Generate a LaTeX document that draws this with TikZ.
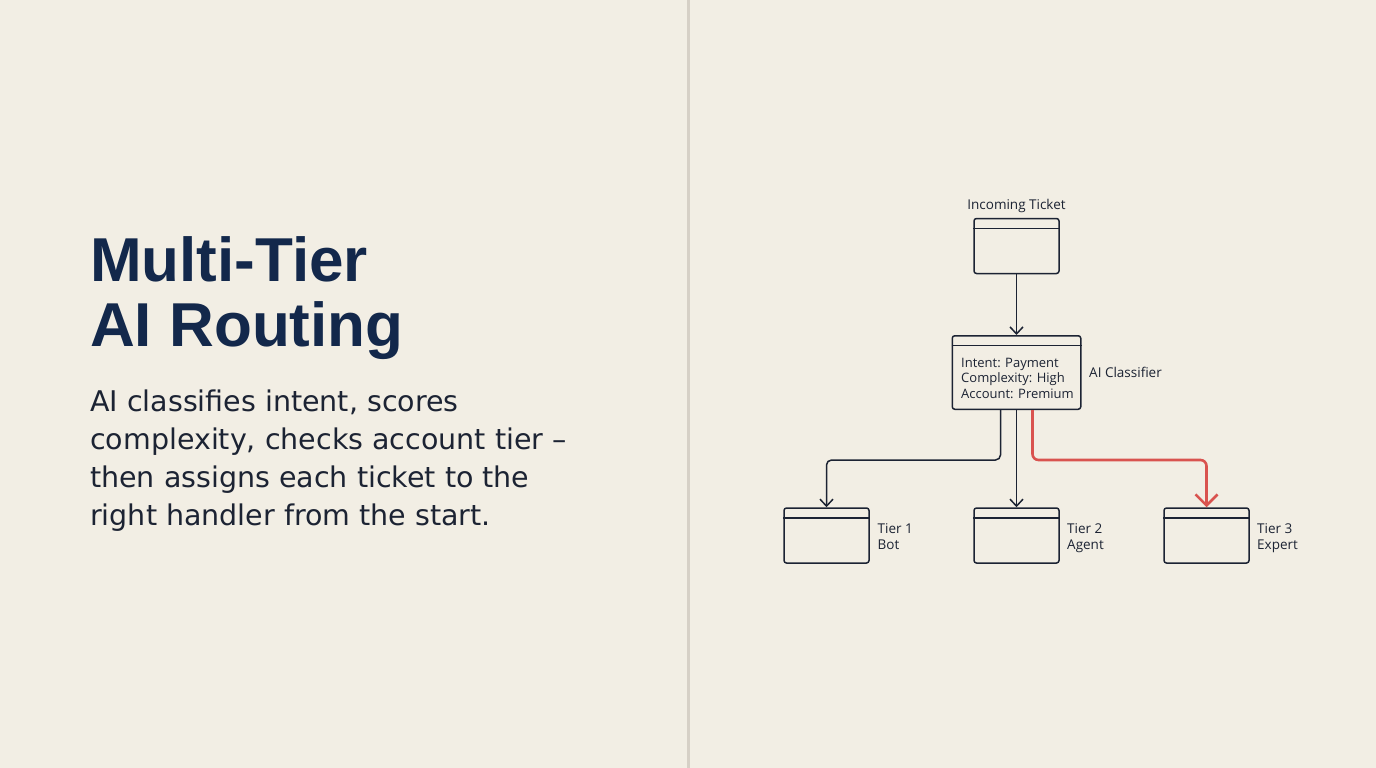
\documentclass[tikz,border=0pt]{standalone}
\usepackage{fontspec}
\setmainfont{Open Sans}
\newfontfamily\titlefont{Liberation Sans}
\newfontfamily\bodyfont{DejaVu Sans}
\usetikzlibrary{arrows.meta}
\definecolor{bg}{HTML}{F2EEE4}
\definecolor{divider}{HTML}{D6D0C6}
\definecolor{navy}{HTML}{13284B}
\definecolor{ink}{HTML}{1C2333}
\definecolor{redline}{HTML}{D9534F}
\tikzset{
  box/.style={draw=ink, line width=1.5pt, rounded corners=2.5pt, minimum width=85pt, minimum height=55pt, inner sep=0pt},
  hdr/.style={draw=ink, line width=1.5pt},
  lbl/.style={font=\fontsize{13.5}{15}\selectfont, text=ink, inner sep=0pt},
  inlbl/.style={font=\fontsize{13}{15}\selectfont, text=ink, inner sep=0pt, anchor=base west},
  body/.style={font=\bodyfont\fontsize{28.5}{38}\selectfont, text=ink, inner sep=0pt, anchor=base west},
  title/.style={font=\titlefont\fontsize{62}{65}\selectfont\bfseries, text=navy, inner sep=0pt, anchor=base west},
  conn/.style={draw=ink, line width=1.5pt, rounded corners=5pt, -{Straight Barb[length=7pt,width=13pt]}},
  hot/.style={draw=redline, line width=2.6pt, rounded corners=6pt, -{Straight Barb[length=11pt,width=22pt]}}
}
\begin{document}
\begin{tikzpicture}[x=1pt,y=-1pt]
\useasboundingbox (0,0) rectangle (1376,768);
\fill[bg] (0,0) rectangle (1376,768);
\fill[divider] (686.5,0) rectangle (689.5,768);

% left text
\node[title] (t1) at (90,281) {Multi-Tier};
\node[title] (t2) at (90,346) {AI Routing};
\node[body] (b1) at (90,411) {AI classifies intent, scores};
\node[body] (b2) at (90,449) {complexity, checks account tier –};
\node[body] (b3) at (90,487.5) {then assigns each ticket to the};
\node[body] (b4) at (90,525.5) {right handler from the start.};

% diagram
\node[box] (in) at (1016.5,246) {};
\draw[hdr] ([yshift=-10.5pt]in.north west) -- ([yshift=-10.5pt]in.north east);
\node[lbl, anchor=base] (inl) at (1016.5,209) {Incoming Ticket};

\node[box, minimum width=128.5pt, minimum height=73.5pt] (cls) at (1016.5,372.5) {};
\draw[hdr] ([yshift=-10.5pt]cls.north west) -- ([yshift=-10.5pt]cls.north east);
\node[inlbl] (c1) at (961,367) {Intent: Payment};
\node[inlbl] (c2) at (961,382.5) {Complexity: High};
\node[inlbl] (c3) at (961,398) {Account: Premium};
\node[lbl, anchor=base west] (clsl) at (1089,377) {AI Classifier};

\node[box] (tA) at (826.5,535.5) {};
\draw[hdr] ([yshift=-10.5pt]tA.north west) -- ([yshift=-10.5pt]tA.north east);
\node[box] (tB) at (1016.5,535.5) {};
\draw[hdr] ([yshift=-10.5pt]tB.north west) -- ([yshift=-10.5pt]tB.north east);
\node[box] (tC) at (1206.5,535.5) {};
\draw[hdr] ([yshift=-10.5pt]tC.north west) -- ([yshift=-10.5pt]tC.north east);

\node[lbl, anchor=base west] (tA1) at (877.5,533) {Tier 1};
\node[lbl, anchor=base west] (tA2) at (877.5,549) {Bot};
\node[lbl, anchor=base west] (tB1) at (1067,533) {Tier 2};
\node[lbl, anchor=base west] (tB2) at (1067,549) {Agent};
\node[lbl, anchor=base west] (tC1) at (1257,533) {Tier 3};
\node[lbl, anchor=base west] (tC2) at (1257,549) {Expert};

\draw[conn, rounded corners=0pt] (in.south) -- (cls.north);
\draw[conn] ([xshift=-16pt]cls.south) -- ++(0,50) -| (tA.north);
\draw[conn, rounded corners=0pt] (cls.south) -- (tB.north);
\draw[hot] ([xshift=16pt]cls.south) -- ++(0,50) -| (tC.north);
\end{tikzpicture}
\end{document}
